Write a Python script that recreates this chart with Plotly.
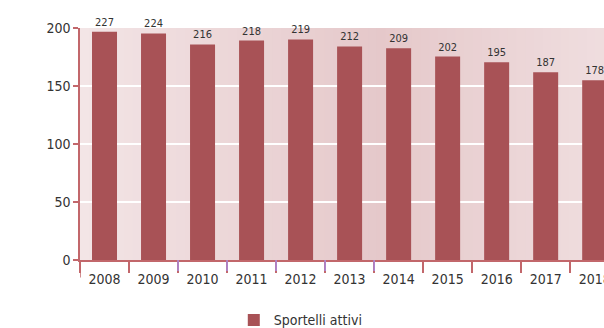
import plotly.graph_objects as go

# anni sull'asse x
years = ["2008", "2009", "2010", "2011", "2012", "2013",
         "2014", "2015", "2016", "2017", "2018"]
bar_heights = [196.7, 195.3, 185.8, 189.2, 190.1, 184.1,
               182.5, 175.4, 170.5, 161.9, 155.0]
# etichette stampate sopra le barre
bar_labels = ["227", "224", "216", "218", "219", "212",
              "209", "202", "195", "187", "178"]
y_ticks = [0, 50, 100, 150, 200]
purple_ticks = [1.5, 2.5, 3.5, 4.5, 5.5]

BAR_COLOR = "#a85256"
AXIS_COLOR = "#c2676b"
FONT = "Liberation Sans Narrow, DejaVu Sans Condensed, Roboto Condensed, Arial Narrow, sans-serif"


def mix(c1, c2, t):
    return "rgb(%d,%d,%d)" % tuple(round(a + (b - a) * t) for a, b in zip(c1, c2))


def gradient_shapes(n=60):
    '''Fondo a gradiente orizzontale: chiaro ai lati, piu scuro al centro.'''
    light = (243, 229, 230)
    dark = (229, 200, 202)
    peak = 0.57
    shapes = []
    for i in range(n):
        x0, x1 = i / n, (i + 1) / n
        xm = (x0 + x1) / 2
        t = xm / peak if xm <= peak else 1 - (xm - peak) / (1.15 - peak)
        shapes.append(dict(type="rect", xref="paper", yref="paper",
                           x0=x0, x1=x1 + 0.002, y0=0, y1=1,
                           fillcolor=mix(light, dark, max(t, 0)),
                           line=dict(width=0), layer="below"))
    return shapes


fig = go.Figure()
fig.add_trace(go.Bar(
    x=years, y=bar_heights, name="Sportelli attivi",
    marker=dict(color=BAR_COLOR, line=dict(width=0)),
    text=bar_labels, textposition="outside", cliponaxis=False,
    textfont=dict(size=11, color="#333333", family=FONT),
    hoverinfo="skip",
))

shapes = gradient_shapes()
# tacche viola tra le categorie
for xv in purple_ticks:
    shapes.append(dict(type="line", xref="x", yref="paper", x0=xv, x1=xv,
                       y0=0, y1=-0.047, line=dict(color="#a98be0", width=1.5)))
# prolungamento dell'asse y sotto lo zero
shapes.append(dict(type="line", xref="x", yref="paper", x0=-0.5, x1=-0.5,
                   y0=0, y1=-0.075, line=dict(color=AXIS_COLOR, width=1.5)))

fig.update_layout(
    width=604, height=328,
    margin=dict(l=80, r=0, t=28, b=68, autoexpand=False),
    paper_bgcolor="white",
    plot_bgcolor="rgba(0,0,0,0)",
    font=dict(family=FONT, size=14, color="#333333"),
    bargap=0.49,
    shapes=shapes,
    showlegend=True,
    legend=dict(orientation="h", xref="container", yref="container",
                x=0.498, xanchor="center", y=0.072, yanchor="top",
                font=dict(size=14, color="#333333")),
    xaxis=dict(type="category", range=[-0.5, 10.19], automargin=False,
               showline=True, linecolor=AXIS_COLOR, linewidth=1.5,
               ticks="outside", tickson="boundaries", ticklen=11,
               tickcolor=AXIS_COLOR, tickwidth=1.5, ticklabelstandoff=5,
               showgrid=False, tickfont=dict(size=14)),
    yaxis=dict(range=[0, 200], tickvals=y_ticks, automargin=False,
               showline=True, linecolor=AXIS_COLOR, linewidth=1.5,
               ticks="outside", ticklen=5, tickcolor=AXIS_COLOR, tickwidth=1.5,
               showgrid=True, gridcolor="white", gridwidth=1.5,
               zeroline=False, tickfont=dict(size=14)),
)

# niente margine della pagina e niente barre di scorrimento
fig.write_html("out.html", config={"displayModeBar": False}, post_script=(
    "document.body.style.margin='0';"
    "document.body.style.overflow='hidden';"
))
